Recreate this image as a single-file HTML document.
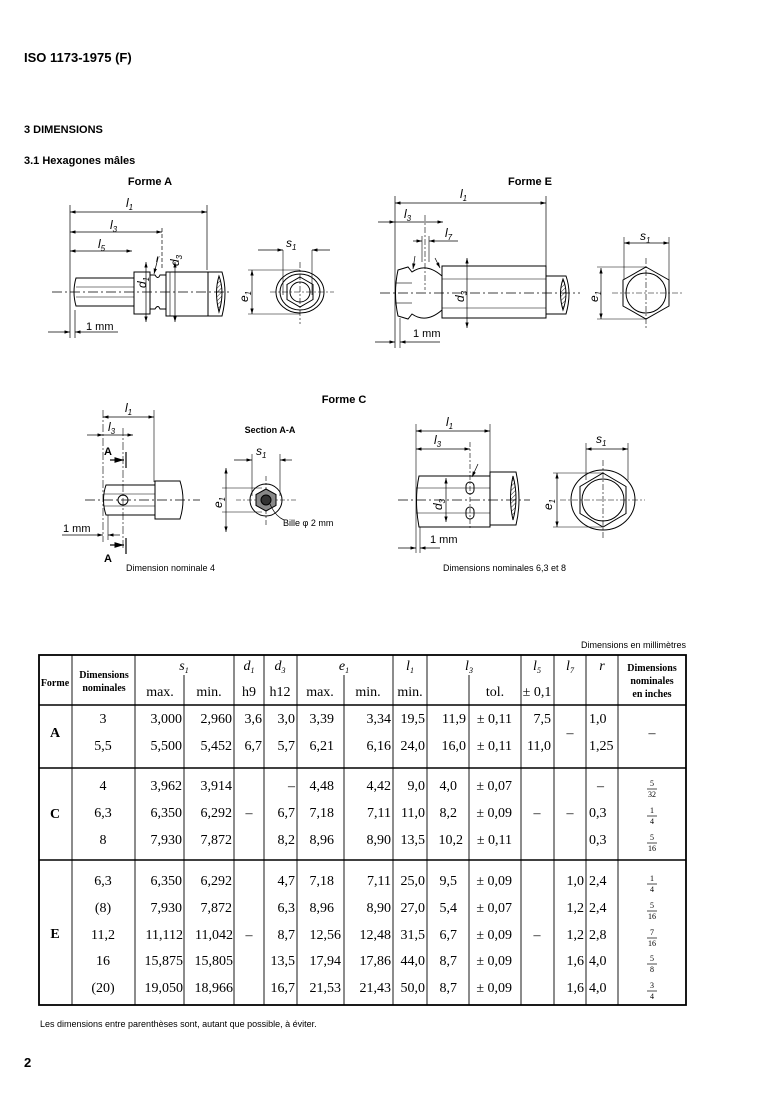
<!DOCTYPE html>
<html><head><meta charset="utf-8"><style>
html,body{margin:0;padding:0;background:#fff;}
svg{display:block;}
.s{font-family:"Liberation Sans",sans-serif;}
.r{font-family:"Liberation Serif",serif;font-size:14px;}
</style></head><body>
<svg width="776" height="1098" viewBox="0 0 776 1098" xmlns="http://www.w3.org/2000/svg">
<defs>
<marker id="a" viewBox="0 0 10 6" refX="10" refY="3" markerWidth="8" markerHeight="5" orient="auto-start-reverse"><path d="M0,0L10,3L0,6z" fill="#000"/></marker>
<pattern id="h" width="3" height="3" patternUnits="userSpaceOnUse" patternTransform="rotate(45)"><line x1="0" y1="0" x2="0" y2="3" stroke="#000" stroke-width="0.8"/></pattern>
</defs>
<g class="s" font-weight="bold" fill="#000">
<text x="24" y="62" font-size="13">ISO 1173-1975 (F)</text>
<text x="24" y="133" font-size="11">3  DIMENSIONS</text>
<text x="24" y="164" font-size="11">3.1  Hexagones mâles</text>
<text x="150" y="185" font-size="11" text-anchor="middle">Forme A</text>
<text x="530" y="185" font-size="11" text-anchor="middle">Forme E</text>
<text x="344" y="403" font-size="11" text-anchor="middle">Forme C</text>
<text x="270" y="433" font-size="9" text-anchor="middle">Section A-A</text>
<text x="24" y="1067" font-size="13">2</text>
</g>
<g class="s" fill="#000" font-size="9">
<text x="126" y="571">Dimension nominale 4</text>
<text x="443" y="571">Dimensions nominales 6,3 et 8</text>
<text x="686" y="648" text-anchor="end">Dimensions en millimètres</text>
<text x="40" y="1027">Les dimensions entre parenthèses sont, autant que possible, à éviter.</text>
<text x="283" y="526">Bille φ 2 mm</text>
</g>

<!-- FORME A -->
<g stroke="#000" fill="none" stroke-width="1">
<line x1="52" y1="292" x2="232" y2="292" stroke-dasharray="10,3,2,3" stroke-width="0.7"/>
<line x1="70" y1="205" x2="70" y2="338" stroke-width="0.7"/>
<line x1="207" y1="205" x2="207" y2="270" stroke-width="0.7"/>
<line x1="162" y1="228" x2="162" y2="270" stroke-width="0.7" stroke-dasharray="4,2"/>
<line x1="70" y1="212" x2="207" y2="212" marker-start="url(#a)" marker-end="url(#a)" stroke-width="0.7"/>
<line x1="70" y1="232" x2="162" y2="232" marker-start="url(#a)" marker-end="url(#a)" stroke-width="0.7"/>
<line x1="70" y1="251" x2="132" y2="251" marker-start="url(#a)" marker-end="url(#a)" stroke-width="0.7"/>
<path d="M76,278 L134,278 L134,306 L76,306 Q72,292 76,278 Z"/>
<line x1="76" y1="287" x2="134" y2="287" stroke-width="0.6"/>
<line x1="76" y1="297" x2="134" y2="297" stroke-width="0.6"/>
<rect x="134" y="272" width="16" height="42"/>
<path d="M150,275 L155,275 Q158,280 160,275 L166,275 L166,309 L160,309 Q158,304 155,309 L150,309"/>
<rect x="166" y="272" width="42" height="44"/>
<line x1="170" y1="272" x2="170" y2="316" stroke-width="0.6"/>
<path d="M208,272 L222,272 Q228,292 222,316 L208,316"/>
<path d="M219,276 Q225,292 219,312 Q214,292 219,276Z" fill="url(#h)"/>
<line x1="146" y1="262" x2="146" y2="322" stroke-width="0.7" marker-start="url(#a)" marker-end="url(#a)"/>
<line x1="175" y1="262" x2="175" y2="322" stroke-width="0.7" marker-start="url(#a)" marker-end="url(#a)"/>
<line x1="158" y1="258" x2="154" y2="274" stroke-width="0.7" marker-end="url(#a)"/>
<line x1="48" y1="332" x2="70" y2="332" stroke-width="0.7" marker-end="url(#a)"/>
<line x1="75" y1="332" x2="118" y2="332" stroke-width="0.7" marker-start="url(#a)"/>
<line x1="75" y1="310" x2="75" y2="338" stroke-width="0.7"/>
<line x1="270" y1="292" x2="334" y2="292" stroke-dasharray="6,2,2,2" stroke-width="0.6"/>
<line x1="300" y1="262" x2="300" y2="324" stroke-dasharray="6,2,2,2" stroke-width="0.6"/>
<ellipse cx="300" cy="292" rx="24" ry="21"/>
<ellipse cx="300" cy="292" rx="20" ry="18"/>
<polygon points="300,277 313,284.5 313,299.5 300,307 287,299.5 287,284.5"/>
<circle cx="300" cy="292" r="10"/>
<line x1="283" y1="250" x2="283" y2="295" stroke-width="0.6"/>
<line x1="312" y1="250" x2="312" y2="295" stroke-width="0.6"/>
<line x1="258" y1="250" x2="283" y2="250" stroke-width="0.7" marker-end="url(#a)"/>
<line x1="312" y1="250" x2="330" y2="250" stroke-width="0.7" marker-start="url(#a)"/>
<line x1="252" y1="270" x2="252" y2="314" stroke-width="0.7" marker-start="url(#a)" marker-end="url(#a)"/>
<line x1="248" y1="270" x2="300" y2="270" stroke-width="0.5"/>
<line x1="248" y1="314" x2="300" y2="314" stroke-width="0.5"/>
</g>
<g class="s" font-size="12" font-style="italic" fill="#000">
<text x="126" y="207">l<tspan font-size="8" dy="3">1</tspan></text>
<text x="110" y="229">l<tspan font-size="8" dy="3">3</tspan></text>
<text x="98" y="248">l<tspan font-size="8" dy="3">5</tspan></text>
<text x="286" y="247">s<tspan font-size="8" dy="3">1</tspan></text>
<text transform="translate(146,288) rotate(-90)">d<tspan font-size="8" dy="3">1</tspan></text>
<text transform="translate(179,266) rotate(-90)">d<tspan font-size="8" dy="3">3</tspan></text>
<text transform="translate(248,302) rotate(-90)">e<tspan font-size="8" dy="3">1</tspan></text>
<text x="156" y="262" font-size="10">r</text>
</g>
<text class="s" x="86" y="330" font-size="11">1 mm</text>

<!-- FORME E -->
<g stroke="#000" fill="none" stroke-width="1">
<line x1="380" y1="293" x2="580" y2="293" stroke-dasharray="10,3,2,3" stroke-width="0.7"/>
<line x1="395" y1="196" x2="395" y2="348" stroke-width="0.7"/>
<line x1="546" y1="196" x2="546" y2="266" stroke-width="0.7"/>
<line x1="425" y1="215" x2="425" y2="290" stroke-width="0.6" stroke-dasharray="6,2,2,2"/>
<line x1="395" y1="203" x2="546" y2="203" stroke-width="0.7" marker-start="url(#a)" marker-end="url(#a)"/>
<line x1="378" y1="222" x2="395" y2="222" stroke-width="0.7" marker-end="url(#a)"/>
<line x1="395" y1="222" x2="443" y2="222" stroke-width="0.7" marker-end="url(#a)"/>
<line x1="413" y1="241" x2="422" y2="241" stroke-width="0.7" marker-end="url(#a)"/>
<line x1="429" y1="241" x2="458" y2="241" stroke-width="0.7" marker-start="url(#a)"/>
<line x1="422" y1="236" x2="422" y2="262" stroke-width="0.6"/>
<line x1="429" y1="236" x2="429" y2="262" stroke-width="0.6"/>
<path d="M398,270 L408,267 L412,272 Q426,262 442,276 L442,310 Q426,324 412,314 L408,319 L398,316 Q393,293 398,270Z"/>
<line x1="396" y1="283" x2="412" y2="283" stroke-width="0.6"/>
<line x1="396" y1="303" x2="412" y2="303" stroke-width="0.6"/>
<rect x="442" y="266" width="104" height="52"/>
<line x1="442" y1="279" x2="546" y2="279" stroke-width="0.6"/>
<line x1="442" y1="308" x2="546" y2="308" stroke-width="0.6"/>
<path d="M546,276 L566,276 Q572,293 566,314 L546,314"/>
<path d="M563,279 Q569,293 563,310 Q558,293 563,279Z" fill="url(#h)"/>
<line x1="467" y1="258" x2="467" y2="328" stroke-width="0.7" marker-start="url(#a)" marker-end="url(#a)"/>
<line x1="415" y1="256" x2="413" y2="269" stroke-width="0.7" marker-end="url(#a)"/>
<line x1="435" y1="258" x2="440" y2="268" stroke-width="0.7" marker-end="url(#a)"/>
<line x1="400" y1="318" x2="400" y2="348" stroke-width="0.6"/>
<line x1="375" y1="342" x2="395" y2="342" stroke-width="0.7" marker-end="url(#a)"/>
<line x1="400" y1="342" x2="440" y2="342" stroke-width="0.7" marker-start="url(#a)"/>
<line x1="612" y1="293" x2="682" y2="293" stroke-dasharray="6,2,2,2" stroke-width="0.6"/>
<line x1="646" y1="258" x2="646" y2="328" stroke-dasharray="6,2,2,2" stroke-width="0.6"/>
<polygon points="646,267 669,280 669,306 646,319 623,306 623,280"/>
<circle cx="646" cy="293" r="20"/>
<line x1="624" y1="237" x2="624" y2="280" stroke-width="0.6"/>
<line x1="669" y1="237" x2="669" y2="280" stroke-width="0.6"/>
<line x1="624" y1="243" x2="669" y2="243" stroke-width="0.7" marker-start="url(#a)" marker-end="url(#a)"/>
<line x1="601" y1="268" x2="601" y2="319" stroke-width="0.7" marker-start="url(#a)" marker-end="url(#a)"/>
<line x1="597" y1="267" x2="646" y2="267" stroke-width="0.5"/>
<line x1="597" y1="319" x2="646" y2="319" stroke-width="0.5"/>
</g>
<g class="s" font-size="12" font-style="italic" fill="#000">
<text x="460" y="198">l<tspan font-size="8" dy="3">1</tspan></text>
<text x="404" y="218">l<tspan font-size="8" dy="3">3</tspan></text>
<text x="445" y="237">l<tspan font-size="8" dy="3">7</tspan></text>
<text x="640" y="240">s<tspan font-size="8" dy="3">1</tspan></text>
<text transform="translate(464,302) rotate(-90)">d<tspan font-size="8" dy="3">3</tspan></text>
<text transform="translate(598,302) rotate(-90)">e<tspan font-size="8" dy="3">1</tspan></text>
</g>
<text class="s" x="413" y="337" font-size="11">1 mm</text>

<!-- FORME C left -->
<g stroke="#000" fill="none" stroke-width="1">
<line x1="85" y1="500" x2="200" y2="500" stroke-dasharray="10,3,2,3" stroke-width="0.7"/>
<line x1="103" y1="410" x2="103" y2="542" stroke-width="0.6" stroke-dasharray="8,2,2,2"/>
<line x1="154" y1="410" x2="154" y2="482" stroke-width="0.6"/>
<line x1="123" y1="428" x2="123" y2="550" stroke-width="0.6" stroke-dasharray="8,2,2,2"/>
<line x1="103" y1="417" x2="154" y2="417" stroke-width="0.7" marker-start="url(#a)" marker-end="url(#a)"/>
<line x1="87" y1="435" x2="103" y2="435" stroke-width="0.7" marker-end="url(#a)"/>
<line x1="103" y1="435" x2="133" y2="435" stroke-width="0.7" marker-end="url(#a)"/>
<path d="M106,485 L155,485 L155,515 L106,515 Q101,500 106,485Z"/>
<line x1="104" y1="494" x2="155" y2="494" stroke-width="0.6"/>
<line x1="104" y1="506" x2="155" y2="506" stroke-width="0.6"/>
<circle cx="123" cy="500" r="5"/>
<path d="M155,481 L180,481 Q186,500 180,519 L155,519Z"/>
<line x1="110" y1="460" x2="124" y2="460" stroke-width="1.2" marker-end="url(#a)"/>
<line x1="110" y1="545" x2="124" y2="545" stroke-width="1.2" marker-end="url(#a)"/>
<line x1="126" y1="452" x2="126" y2="468" stroke-width="1.2"/>
<line x1="126" y1="538" x2="126" y2="554" stroke-width="1.2"/>
<line x1="108" y1="515" x2="108" y2="540" stroke-width="0.6"/>
<line x1="62" y1="535" x2="103" y2="535" stroke-width="0.7" marker-end="url(#a)"/>
<line x1="108" y1="535" x2="120" y2="535" stroke-width="0.7" marker-start="url(#a)"/>
<line x1="236" y1="500" x2="296" y2="500" stroke-dasharray="5,2,2,2" stroke-width="0.6"/>
<line x1="266" y1="476" x2="266" y2="526" stroke-dasharray="5,2,2,2" stroke-width="0.6"/>
<circle cx="266" cy="500" r="16"/>
<polygon points="266,489 276,494.5 276,505.5 266,511 256,505.5 256,494.5" fill="#888"/>
<circle cx="266" cy="500" r="5" fill="#333"/>
<line x1="252" y1="454" x2="252" y2="496" stroke-width="0.6"/>
<line x1="280" y1="454" x2="280" y2="496" stroke-width="0.6"/>
<line x1="234" y1="460" x2="252" y2="460" stroke-width="0.7" marker-end="url(#a)"/>
<line x1="280" y1="460" x2="292" y2="460" stroke-width="0.7" marker-start="url(#a)"/>
<line x1="226" y1="468" x2="226" y2="532" stroke-width="0.7" marker-start="url(#a)" marker-end="url(#a)"/>
<line x1="222" y1="488" x2="262" y2="488" stroke-width="0.5"/>
<line x1="222" y1="512" x2="262" y2="512" stroke-width="0.5"/>
<path d="M270,504 Q275,516 284,520" stroke-width="0.7"/>
</g>
<g class="s" font-size="12" font-style="italic" fill="#000">
<text x="125" y="412">l<tspan font-size="8" dy="3">1</tspan></text>
<text x="108" y="431">l<tspan font-size="8" dy="3">3</tspan></text>
<text x="256" y="455">s<tspan font-size="8" dy="3">1</tspan></text>
<text transform="translate(222,508) rotate(-90)">e<tspan font-size="8" dy="3">1</tspan></text>
</g>
<g class="s" font-size="11" font-weight="bold" fill="#000">
<text x="104" y="455">A</text>
<text x="104" y="562">A</text>
</g>
<text class="s" x="63" y="532" font-size="11">1 mm</text>

<!-- FORME C right -->
<g stroke="#000" fill="none" stroke-width="1">
<line x1="398" y1="500" x2="530" y2="500" stroke-dasharray="10,3,2,3" stroke-width="0.7"/>
<line x1="416" y1="424" x2="416" y2="553" stroke-width="0.6"/>
<line x1="490" y1="424" x2="490" y2="472" stroke-width="0.6"/>
<line x1="470" y1="442" x2="470" y2="530" stroke-width="0.6" stroke-dasharray="5,2,2,2"/>
<line x1="416" y1="431" x2="490" y2="431" stroke-width="0.7" marker-start="url(#a)" marker-end="url(#a)"/>
<line x1="416" y1="449" x2="470" y2="449" stroke-width="0.7" marker-start="url(#a)" marker-end="url(#a)"/>
<path d="M419,476 L490,476 L490,527 L419,527 Q414,500 419,476Z"/>
<line x1="416" y1="488" x2="490" y2="488" stroke-width="0.6"/>
<line x1="416" y1="513" x2="490" y2="513" stroke-width="0.6"/>
<rect x="466" y="482" width="8" height="12" rx="4"/>
<rect x="466" y="507" width="8" height="12" rx="4"/>
<path d="M490,472 L516,472 Q522,500 516,525 L490,525Z"/>
<path d="M513,476 Q519,498 513,520 Q508,498 513,476Z" fill="url(#h)"/>
<line x1="446" y1="478" x2="446" y2="522" stroke-width="0.7" marker-start="url(#a)" marker-end="url(#a)"/>
<line x1="420" y1="527" x2="420" y2="553" stroke-width="0.6"/>
<line x1="398" y1="548" x2="416" y2="548" stroke-width="0.7" marker-end="url(#a)"/>
<line x1="420" y1="548" x2="440" y2="548" stroke-width="0.7" marker-start="url(#a)"/>
<line x1="478" y1="464" x2="472" y2="477" stroke-width="0.7" marker-end="url(#a)"/>
<line x1="560" y1="500" x2="645" y2="500" stroke-dasharray="6,2,2,2" stroke-width="0.6"/>
<line x1="603" y1="460" x2="603" y2="540" stroke-dasharray="6,2,2,2" stroke-width="0.6"/>
<ellipse cx="603" cy="500" rx="32" ry="30"/>
<polygon points="603,473 626,486.5 626,513.5 603,527 580,513.5 580,486.5"/>
<circle cx="603" cy="500" r="21"/>
<line x1="586" y1="443" x2="586" y2="480" stroke-width="0.6"/>
<line x1="628" y1="443" x2="628" y2="480" stroke-width="0.6"/>
<line x1="586" y1="449" x2="628" y2="449" stroke-width="0.7" marker-start="url(#a)" marker-end="url(#a)"/>
<line x1="557" y1="473" x2="557" y2="527" stroke-width="0.7" marker-start="url(#a)" marker-end="url(#a)"/>
<line x1="553" y1="473" x2="603" y2="473" stroke-width="0.5"/>
<line x1="553" y1="527" x2="603" y2="527" stroke-width="0.5"/>
</g>
<g class="s" font-size="12" font-style="italic" fill="#000">
<text x="446" y="426">l<tspan font-size="8" dy="3">1</tspan></text>
<text x="434" y="444">l<tspan font-size="8" dy="3">3</tspan></text>
<text x="596" y="443">s<tspan font-size="8" dy="3">1</tspan></text>
<text transform="translate(442,510) rotate(-90)">d<tspan font-size="8" dy="3">3</tspan></text>
<text transform="translate(552,510) rotate(-90)">e<tspan font-size="8" dy="3">1</tspan></text>
</g>
<text class="s" x="430" y="543" font-size="11">1 mm</text>

<!-- TABLE -->
<g stroke="#000" fill="none">
<rect x="39" y="655" width="647" height="350" stroke-width="1.8"/>
<line x1="39" y1="705" x2="686" y2="705" stroke-width="1.5"/>
<line x1="39" y1="768" x2="686" y2="768" stroke-width="1.5"/>
<line x1="39" y1="860" x2="686" y2="860" stroke-width="1.5"/>
<g stroke-width="0.9">
<line x1="72" y1="655" x2="72" y2="1005"/>
<line x1="135" y1="655" x2="135" y2="1005"/>
<line x1="184" y1="675" x2="184" y2="1005"/>
<line x1="234" y1="655" x2="234" y2="1005"/>
<line x1="264" y1="655" x2="264" y2="1005"/>
<line x1="297" y1="655" x2="297" y2="1005"/>
<line x1="344" y1="675" x2="344" y2="1005"/>
<line x1="393" y1="655" x2="393" y2="1005"/>
<line x1="427" y1="655" x2="427" y2="1005"/>
<line x1="469" y1="675" x2="469" y2="1005"/>
<line x1="521" y1="655" x2="521" y2="1005"/>
<line x1="554" y1="655" x2="554" y2="1005"/>
<line x1="586" y1="655" x2="586" y2="1005"/>
<line x1="618" y1="655" x2="618" y2="1005"/>
</g>
</g>
<g class="r" fill="#000">
<g font-weight="bold" font-size="10">
<text x="55" y="686" text-anchor="middle">Forme</text>
<text x="104" y="678" text-anchor="middle">Dimensions</text>
<text x="104" y="691" text-anchor="middle">nominales</text>
<text x="652" y="671" text-anchor="middle">Dimensions</text>
<text x="652" y="684" text-anchor="middle">nominales</text>
<text x="652" y="697" text-anchor="middle">en inches</text>
</g>
<g font-style="italic" text-anchor="middle">
<text x="184" y="670">s<tspan font-size="8" dy="3">1</tspan></text>
<text x="249" y="670">d<tspan font-size="8" dy="3">1</tspan></text>
<text x="280" y="670">d<tspan font-size="8" dy="3">3</tspan></text>
<text x="344" y="670">e<tspan font-size="8" dy="3">1</tspan></text>
<text x="410" y="670">l<tspan font-size="8" dy="3">1</tspan></text>
<text x="469" y="670">l<tspan font-size="8" dy="3">3</tspan></text>
<text x="537" y="670">l<tspan font-size="8" dy="3">5</tspan></text>
<text x="570" y="670">l<tspan font-size="8" dy="3">7</tspan></text>
<text x="602" y="670">r</text>
</g>
<g text-anchor="middle">
<text x="160" y="696">max.</text><text x="209" y="696">min.</text>
<text x="249" y="696">h9</text><text x="280" y="696">h12</text>
<text x="320" y="696">max.</text><text x="368" y="696">min.</text>
<text x="410" y="696">min.</text><text x="495" y="696">tol.</text>
<text x="537" y="696">± 0,1</text>
</g>
<g font-weight="bold" font-size="14" text-anchor="middle">
<text x="55" y="737">A</text><text x="55" y="818">C</text><text x="55" y="938">E</text>
</g>
<g text-anchor="middle">
<text x="103" y="723">3</text><text x="103" y="750">5,5</text>
<text x="103" y="790">4</text><text x="103" y="817">6,3</text><text x="103" y="844">8</text>
<text x="103" y="885">6,3</text><text x="103" y="912">(8)</text><text x="103" y="939">11,2</text><text x="103" y="965">16</text><text x="103" y="992">(20)</text>
<text x="249" y="817">–</text><text x="249" y="939">–</text>
<text x="537" y="817">–</text><text x="537" y="939">–</text>
<text x="570" y="737">–</text><text x="570" y="817">–</text>
<text x="652" y="737">–</text>
</g>
<g text-anchor="end">
<text x="182" y="723">3,000</text><text x="232" y="723">2,960</text><text x="262" y="723">3,6</text><text x="295" y="723">3,0</text><text x="334" y="723">3,39</text><text x="391" y="723">3,34</text><text x="425" y="723">19,5</text><text x="466" y="723">11,9</text><text x="512" y="723">± 0,11</text><text x="551" y="723">7,5</text>
<text x="182" y="750">5,500</text><text x="232" y="750">5,452</text><text x="262" y="750">6,7</text><text x="295" y="750">5,7</text><text x="334" y="750">6,21</text><text x="391" y="750">6,16</text><text x="425" y="750">24,0</text><text x="466" y="750">16,0</text><text x="512" y="750">± 0,11</text><text x="551" y="750">11,0</text>
<text x="182" y="790">3,962</text><text x="232" y="790">3,914</text><text x="295" y="790">–</text><text x="334" y="790">4,48</text><text x="391" y="790">4,42</text><text x="425" y="790">9,0</text><text x="457" y="790">4,0</text><text x="512" y="790">± 0,07</text>
<text x="182" y="817">6,350</text><text x="232" y="817">6,292</text><text x="295" y="817">6,7</text><text x="334" y="817">7,18</text><text x="391" y="817">7,11</text><text x="425" y="817">11,0</text><text x="457" y="817">8,2</text><text x="512" y="817">± 0,09</text>
<text x="182" y="844">7,930</text><text x="232" y="844">7,872</text><text x="295" y="844">8,2</text><text x="334" y="844">8,96</text><text x="391" y="844">8,90</text><text x="425" y="844">13,5</text><text x="463" y="844">10,2</text><text x="512" y="844">± 0,11</text>
<text x="182" y="885">6,350</text><text x="232" y="885">6,292</text><text x="295" y="885">4,7</text><text x="334" y="885">7,18</text><text x="391" y="885">7,11</text><text x="425" y="885">25,0</text><text x="457" y="885">9,5</text><text x="512" y="885">± 0,09</text><text x="584" y="885">1,0</text>
<text x="182" y="912">7,930</text><text x="232" y="912">7,872</text><text x="295" y="912">6,3</text><text x="334" y="912">8,96</text><text x="391" y="912">8,90</text><text x="425" y="912">27,0</text><text x="457" y="912">5,4</text><text x="512" y="912">± 0,07</text><text x="584" y="912">1,2</text>
<text x="183" y="939">11,112</text><text x="233" y="939">11,042</text><text x="295" y="939">8,7</text><text x="341" y="939">12,56</text><text x="391" y="939">12,48</text><text x="425" y="939">31,5</text><text x="457" y="939">6,7</text><text x="512" y="939">± 0,09</text><text x="584" y="939">1,2</text>
<text x="183" y="965">15,875</text><text x="233" y="965">15,805</text><text x="295" y="965">13,5</text><text x="341" y="965">17,94</text><text x="391" y="965">17,86</text><text x="425" y="965">44,0</text><text x="457" y="965">8,7</text><text x="512" y="965">± 0,09</text><text x="584" y="965">1,6</text>
<text x="183" y="992">19,050</text><text x="233" y="992">18,966</text><text x="295" y="992">16,7</text><text x="341" y="992">21,53</text><text x="391" y="992">21,43</text><text x="425" y="992">50,0</text><text x="457" y="992">8,7</text><text x="512" y="992">± 0,09</text><text x="584" y="992">1,6</text>
</g>
<g>
<text x="589" y="723">1,0</text><text x="589" y="750">1,25</text>
<text x="597" y="790">–</text><text x="589" y="817">0,3</text><text x="589" y="844">0,3</text>
<text x="589" y="885">2,4</text><text x="589" y="912">2,4</text><text x="589" y="939">2,8</text><text x="589" y="965">4,0</text><text x="589" y="992">4,0</text>
</g>
<g font-size="8" text-anchor="middle">
<text x="652" y="786">5</text><text x="652" y="797">32</text>
<text x="652" y="813">1</text><text x="652" y="824">4</text>
<text x="652" y="840">5</text><text x="652" y="851">16</text>
<text x="652" y="881">1</text><text x="652" y="892">4</text>
<text x="652" y="908">5</text><text x="652" y="919">16</text>
<text x="652" y="935">7</text><text x="652" y="946">16</text>
<text x="652" y="961">5</text><text x="652" y="972">8</text>
<text x="652" y="988">3</text><text x="652" y="999">4</text>
</g>
<g stroke="#000" stroke-width="0.7">
<line x1="647" y1="789" x2="657" y2="789"/><line x1="647" y1="816" x2="657" y2="816"/><line x1="647" y1="843" x2="657" y2="843"/>
<line x1="647" y1="884" x2="657" y2="884"/><line x1="647" y1="911" x2="657" y2="911"/><line x1="647" y1="938" x2="657" y2="938"/>
<line x1="647" y1="964" x2="657" y2="964"/><line x1="647" y1="991" x2="657" y2="991"/>
</g>
</g>
</svg>
</body></html>
